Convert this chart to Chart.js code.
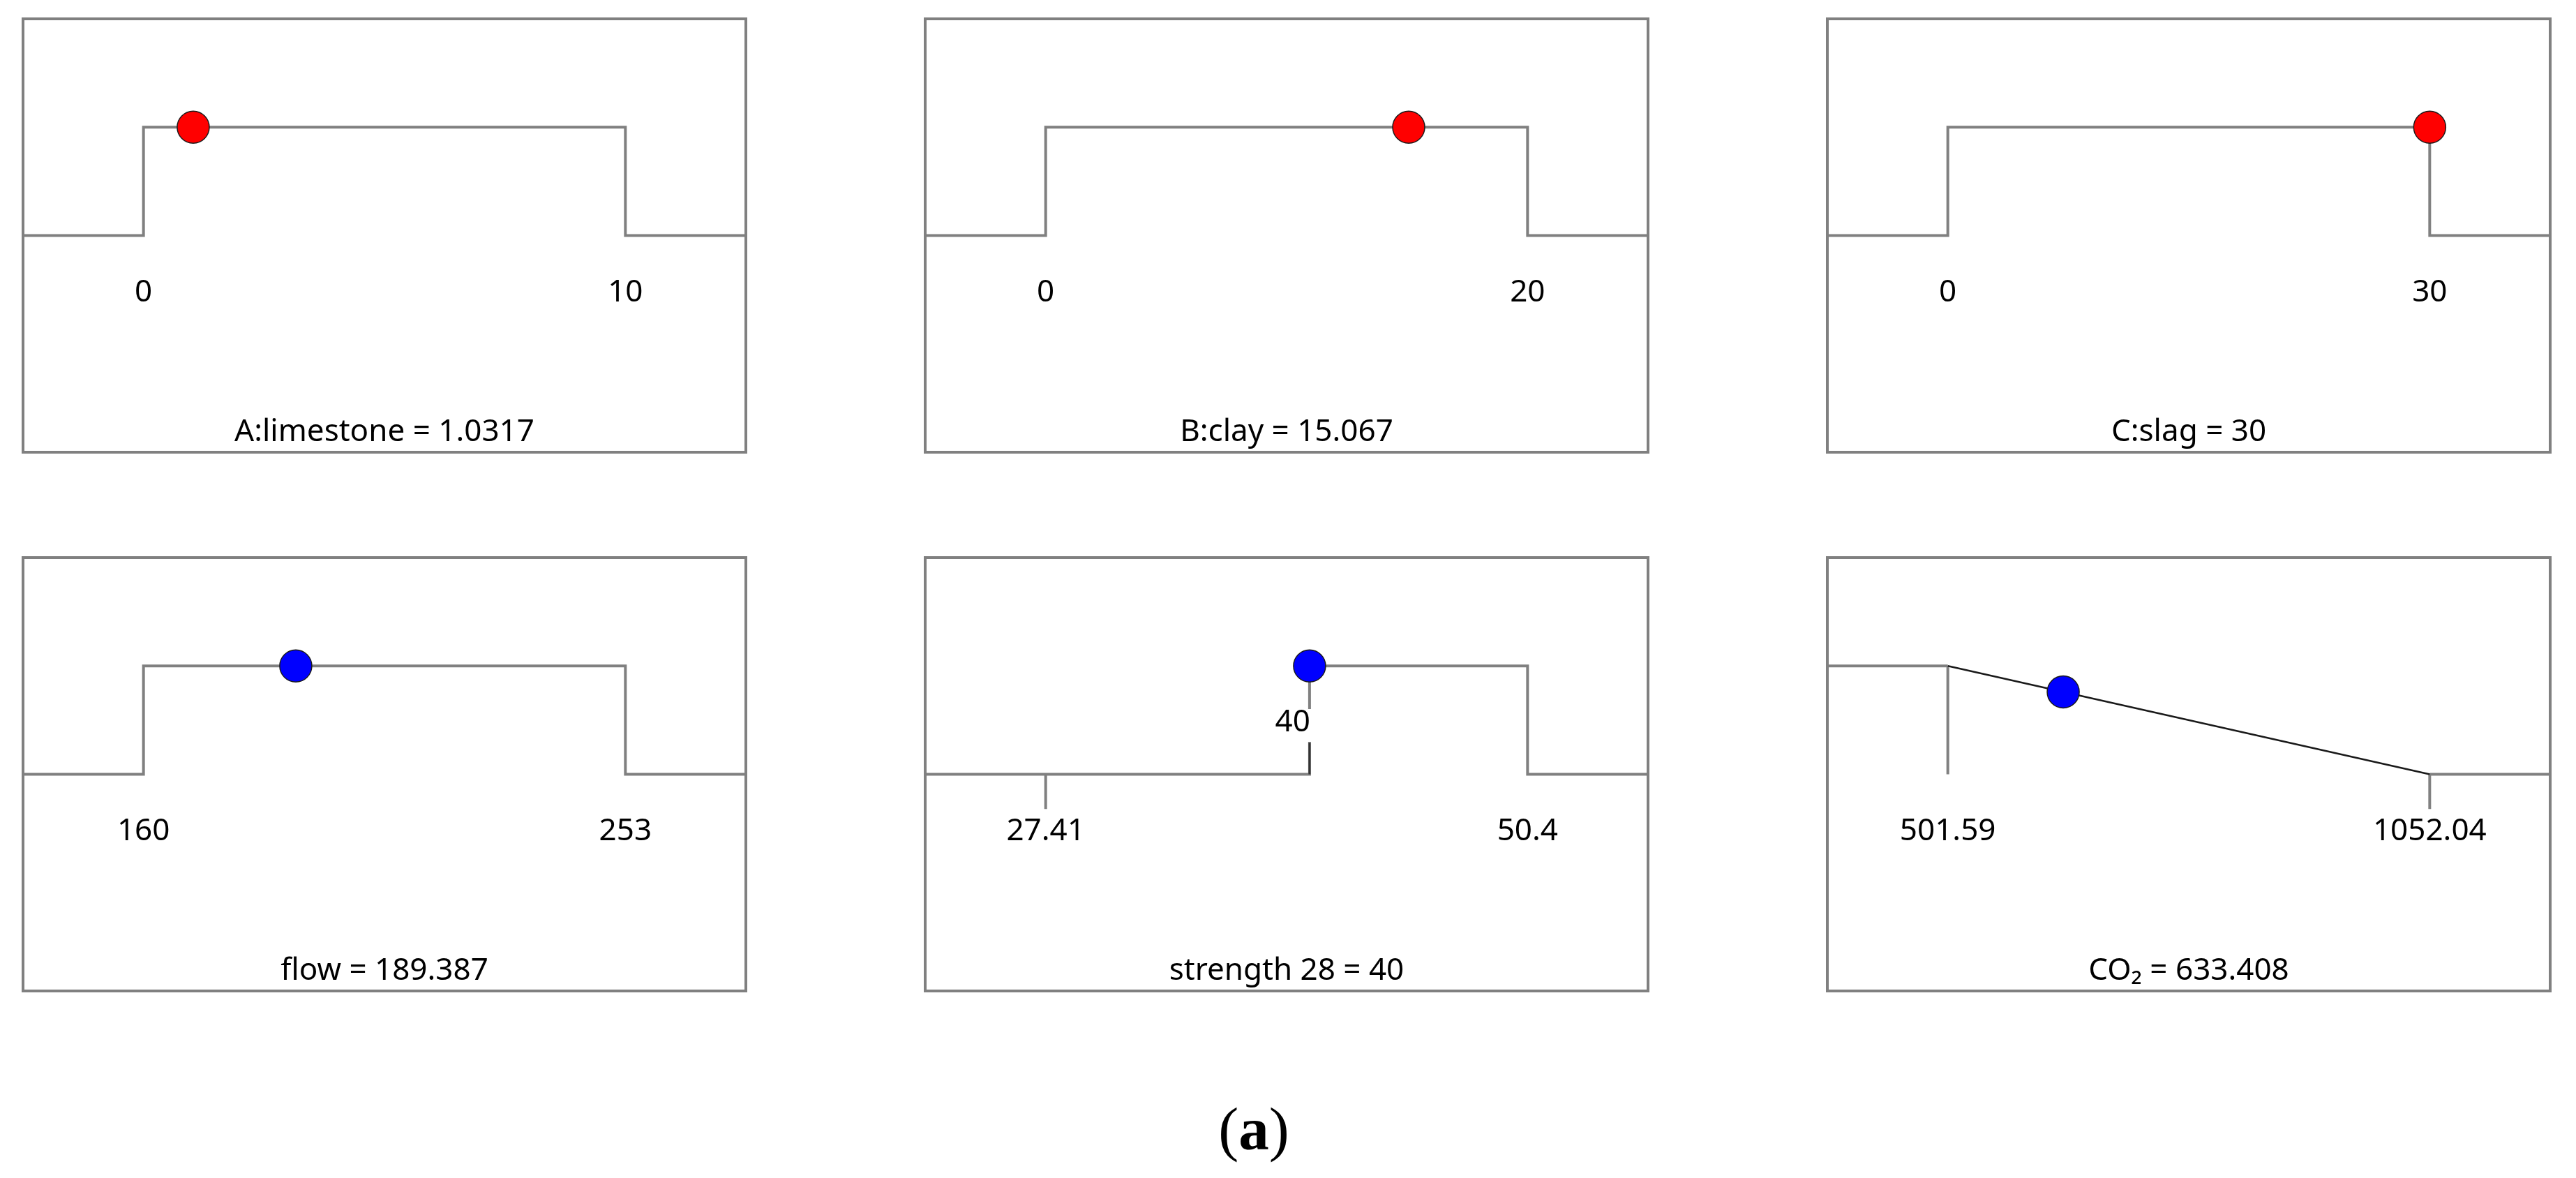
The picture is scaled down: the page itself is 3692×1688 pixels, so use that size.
<!DOCTYPE html>
<html>
<head>
<meta charset="utf-8">
<script src="https://cdn.jsdelivr.net/npm/chart.js@4.4.1/dist/chart.umd.min.js"></script>
<style>
  html, body { margin: 0; padding: 0; background: #ffffff; }
  body { width: 3692px; height: 1688px; position: relative; overflow: hidden; }
  canvas { position: absolute; }
  #caption {
    position: absolute; left: 1597px; top: 1574px; width: 400px; text-align: center;
    font-family: "Liberation Serif", "Times New Roman", serif; font-size: 87px; line-height: 87px; color: #000;
  }
  #caption b { font-weight: bold; }
</style>
</head>
<body>
<div id="caption">(<b>a</b>)</div>
<script>
// ---------- data ----------
const titles = ["A:limestone = 1.0317", "B:clay = 15.067", "C:slag = 30",
                "flow = 189.387", "strength 28 = 40", "CO\u2082 = 633.408"];
const axisLows  = [0, 0, 0, 160, 27.41, 501.59];
const axisHighs = [10, 20, 30, 253, 50.4, 1052.04];
const limitLows  = [0, 0, 0, 160, 40, 501.59];
const limitHighs = [10, 20, 30, 253, 50.4, 1052.04];
const goals = ["range", "range", "range", "range", "range", "minimize"];
const currentValues = [1.0317, 15.067, 30, 189.387, 40, 633.408];
const currentDesirability = [1, 1, 1, 1, 1, 0.76];
const targetLabels = [null, null, null, null, 40, null];
const markerColors = ["#ff0000", "#ff0000", "#ff0000", "#0000ff", "#0000ff", "#0000ff"];

// ---------- layout / style ----------
const BOX_W = 1036, BOX_H = 621, PAD = 14;
const COL_X = [33, 1326, 2619];
const ROW_Y = [27, 799];
const GRAY = "#808080";
const FONT = '44px "Noto Sans", "Open Sans", sans-serif';
const TICK_LEN = 0.32;   // in desirability units (below baseline)
const UP_TICK = 0.29;

function lineDS(points, color, width, order) {
  return { type: 'scatter', data: points, showLine: true, borderColor: color, borderWidth: width,
           pointRadius: 0, pointHoverRadius: 0, fill: false, tension: 0, order: order,
           borderCapStyle: 'butt', borderJoinStyle: 'miter' };
}

const decoPlugin = {
  id: 'deco',
  afterDatasetsDraw(chart, args, opts) {
    const i = opts.index;
    const { ctx, chartArea: a, scales: { x } } = chart;
    ctx.save();
    ctx.strokeStyle = GRAY; ctx.lineWidth = 4;
    ctx.strokeRect(a.left, a.top, a.right - a.left, a.bottom - a.top);
    ctx.font = FONT; ctx.fillStyle = "#000"; ctx.textAlign = "center"; ctx.textBaseline = "alphabetic";
    const labY = a.top + 405;
    ctx.fillText(String(axisLows[i]), x.getPixelForValue(axisLows[i]), labY);
    ctx.fillText(String(axisHighs[i]), x.getPixelForValue(axisHighs[i]), labY);
    ctx.fillText(titles[i], (a.left + a.right) / 2, a.top + 605);
    if (targetLabels[i] !== null) {
      const tx = x.getPixelForValue(targetLabels[i]);
      const s = String(targetLabels[i]);
      const w = ctx.measureText(s).width;
      const by = a.top + 249;
      ctx.fillStyle = "#fff";
      ctx.fillRect(tx - w - 2, by - 32, w + 6, 47);
      ctx.fillStyle = "#000";
      ctx.textAlign = "right";
      ctx.fillText(s, tx + 1, by);
    }
    ctx.restore();
  }
};

for (let i = 0; i < 6; i++) {
  const lo = axisLows[i], hi = axisHighs[i];
  const span = hi - lo;
  const xmin = lo - 0.25 * span, xmax = hi + 0.25 * span;
  const L = limitLows[i], H = limitHighs[i];
  const datasets = [];
  datasets.push({ type: 'scatter', data: [{ x: currentValues[i], y: currentDesirability[i] }],
                  pointRadius: 23, pointHoverRadius: 23, pointBorderWidth: 1.5,
                  pointBackgroundColor: markerColors[i], pointBorderColor: "#1a1a1a", order: 0, showLine: false,
                  clip: false });
  if (goals[i] === "range") {
    datasets.push(lineDS([{x: xmin, y: 0}, {x: L, y: 0}, {x: L, y: 1}, {x: H, y: 1}, {x: H, y: 0}, {x: xmax, y: 0}], GRAY, 4, 3));
    if (lo !== L) {
      datasets.push(lineDS([{x: lo, y: 0}, {x: lo, y: -TICK_LEN}], GRAY, 4, 2));
      datasets.push(lineDS([{x: L, y: 0}, {x: L, y: UP_TICK}], "#333333", 3, 1));
    }
  } else {
    datasets.push(lineDS([{x: xmin, y: 1}, {x: L, y: 1}], GRAY, 4, 3));
    datasets.push(lineDS([{x: L, y: 1}, {x: L, y: 0}], GRAY, 4, 3));
    datasets.push(lineDS([{x: L, y: 1}, {x: H, y: 0}], "#1a1a1a", 2.5, 2));
    datasets.push(lineDS([{x: H, y: 0}, {x: xmax, y: 0}], GRAY, 4, 3));
    datasets.push(lineDS([{x: H, y: 0}, {x: H, y: -TICK_LEN}], GRAY, 4, 3));
  }

  const cv = document.createElement('canvas');
  const col = i % 3, row = Math.floor(i / 3);
  cv.width = BOX_W + 2 * PAD; cv.height = BOX_H + 2 * PAD;
  cv.style.left = (COL_X[col] - PAD) + "px";
  cv.style.top = (ROW_Y[row] - PAD) + "px";
  cv.style.width = cv.width + "px"; cv.style.height = cv.height + "px";
  document.body.appendChild(cv);

  new Chart(cv, {
    type: 'scatter',
    data: { datasets },
    options: {
      responsive: false, animation: false, devicePixelRatio: 1,
      layout: { padding: PAD, autoPadding: false },
      plugins: { legend: { display: false }, tooltip: { enabled: false }, deco: { index: i } },
      scales: {
        x: { type: 'linear', min: xmin, max: xmax, display: false },
        y: { type: 'linear', min: -2, max: 2, display: false }
      },
      elements: { line: { tension: 0 } }
    },
    plugins: [decoPlugin]
  });
}
</script>
</body>
</html>
